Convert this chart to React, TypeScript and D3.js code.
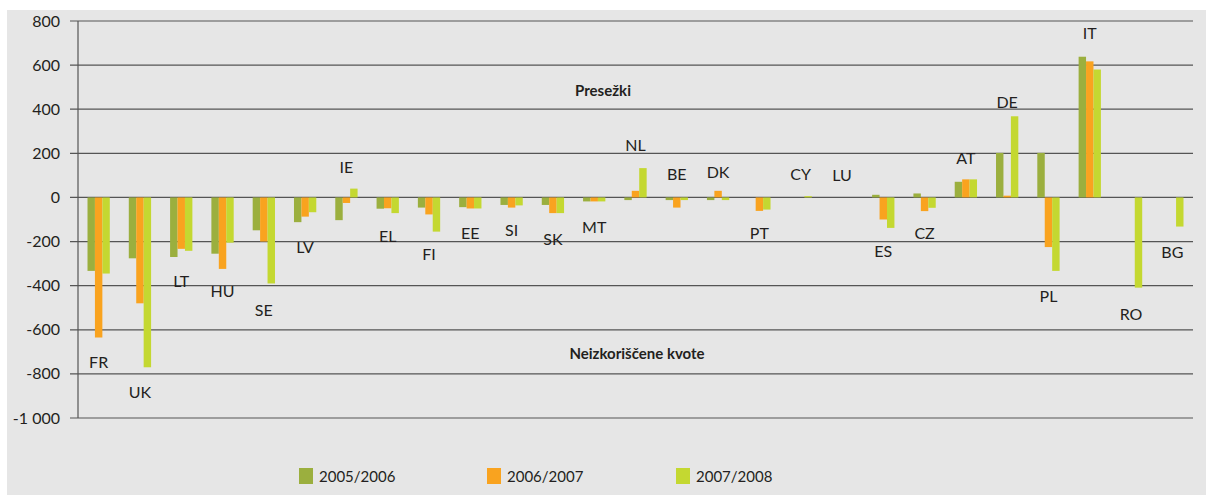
import React from "react";
import * as d3 from "d3";

const countries = [
  "FR", "UK", "LT", "HU", "SE", "LV", "IE", "EL", "FI", "EE", "SI", "SK", "MT", "NL",
  "BE", "DK", "PT", "CY", "LU", "ES", "CZ", "AT", "DE", "PL", "IT", "RO", "BG",
];

const seriesNames = ["2005/2006", "2006/2007", "2007/2008"];

const values0506 = [
  -333, -276, -270, -255, -149, -112, -103, -51, -46, -44, -34, -34, -18, -12,
  -12, -12, 0, 0, 0, 12, 18, 71, 202, 202, 638, 0, 0,
];
const values0607 = [
  -635, -480, -233, -324, -200, -87, -25, -49, -77, -50, -46, -71, -18, 30,
  -46, 30, -61, 0, 0, -100, -62, 82, 8, -225, 617, 0, 0,
];
const values0708 = [
  -345, -770, -242, -205, -390, -67, 40, -71, -155, -50, -36, -71, -18, 133,
  -12, -12, -55, 6, 0, -138, -47, 82, 368, -333, 580, -409, -132,
];

// where each country's name sits, in chart units
const labelValues = [
  -750, -886, -382, -427, -514, -227, 136, -177, -259, -164, -150, -191, -136, 236,
  105, 114, -164, 105, 100, -245, -164, 177, 432, -450, 745, -532, -250,
];

const yTicks = [800, 600, 400, 200, 0, -200, -400, -600, -800, -1000];

const colors = ["#9baf3e", "#f9a31f", "#c4d831"];

const fmt = (v: number) => (v === -1000 ? "-1 000" : String(v));

export default function App() {
  const width = 1206;
  const height = 496;
  const left = 78;
  const right = 1193;

  const x0 = d3.scaleBand<string>().domain(countries).range([left, right])
    .paddingInner(0.46).paddingOuter(0.23);
  const x1 = d3.scaleBand<string>().domain(seriesNames).range([0, x0.bandwidth()]);
  const y = d3.scaleLinear().domain([-1000, 800]).range([418, 21]);

  const series = [values0506, values0607, values0708];
  const font = "Lato, 'Open Sans', sans-serif";
  const ink = "#231f20";

  return (
    <svg width={width} height={height} style={{ position: "absolute", left: 0, top: 0 }}>
      <rect x={7} y={10} width={width - 7} height={height - 11} fill="#e6e6e6" />

      {/* grid */}
      {yTicks.map((t) => (
        <g key={t}>
          <line x1={70} x2={right} y1={y(t)} y2={y(t)} stroke="#555" strokeWidth={1.2} />
          <text x={60} y={y(t)} dy="0.35em" textAnchor="end" fontFamily={font}
            fontSize={16} fill={ink}>{fmt(t)}</text>
        </g>
      ))}
      <line x1={left} x2={left} y1={y(800)} y2={y(-1000)} stroke="#555" strokeWidth={1.2} />

      {/* bars */}
      {countries.map((c, i) => (
        <g key={c} transform={`translate(${x0(c)},0)`}>
          {series.map((vals, s) => {
            const v = vals[i];
            if (v === 0) return null;
            return (
              <rect key={s} x={x1(seriesNames[s])} width={x1.bandwidth()}
                y={Math.min(y(v), y(0))} height={Math.abs(y(v) - y(0))} fill={colors[s]} />
            );
          })}
        </g>
      ))}

      {/* country names */}
      {countries.map((c, i) => (
        <text key={c} x={(x0(c) as number) + x0.bandwidth() / 2} y={y(labelValues[i])}
          dy="0.35em" textAnchor="middle" fontFamily={font} fontSize={16} fill={ink}>{c}</text>
      ))}

      <text x={603} y={91} dy="0.35em" textAnchor="middle" fontFamily={font}
        fontSize={15} fontWeight="bold" fill={ink}>Presežki</text>
      <text x={637} y={354} dy="0.35em" textAnchor="middle" fontFamily={font}
        fontSize={15} fontWeight="bold" fill={ink}>Neizkoriščene kvote</text>

      {/* legend */}
      {seriesNames.map((n, s) => {
        const lx = [299, 487, 676][s];
        return (
          <g key={n}>
            <rect x={lx} y={468} width={14} height={16} fill={colors[s]} />
            <text x={lx + 20} y={477} dy="0.35em" fontFamily={font} fontSize={15} fill={ink}>{n}</text>
          </g>
        );
      })}
    </svg>
  );
}
